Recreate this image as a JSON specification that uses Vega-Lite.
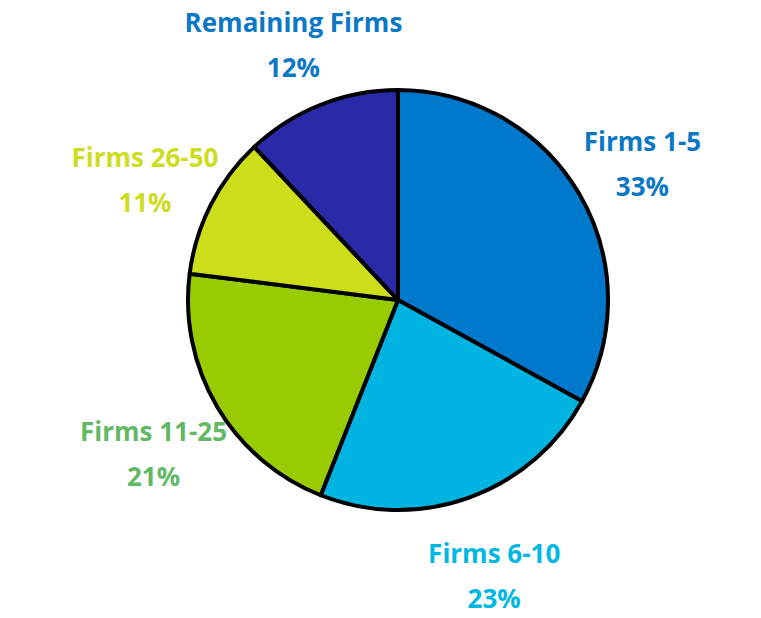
{
  "$schema": "https://vega.github.io/schema/vega-lite/v6.json",
  "autosize": "none",
  "width": 726,
  "height": 600,
  "padding": {"left": 35, "right": 0, "top": 0, "bottom": 18},
  "background": "white",
  "view": {"stroke": null},
  "data": {
    "values": [
      {"firm": "Firms 1-5", "pct": 33, "ord": 1, "label": "Firms 1-5\n33%"},
      {"firm": "Firms 6-10", "pct": 23, "ord": 2, "label": "Firms 6-10\n23%"},
      {"firm": "Firms 11-25", "pct": 21, "ord": 3, "label": "Firms 11-25\n21%"},
      {"firm": "Firms 26-50", "pct": 11, "ord": 4, "label": "Firms 26-50\n11%"},
      {"firm": "Remaining Firms", "pct": 12, "ord": 5, "label": "Remaining Firms\n12%"}
    ]
  },
  "encoding": {
    "theta": {"field": "pct", "type": "quantitative", "stack": true},
    "order": {"field": "ord", "type": "quantitative"}
  },
  "layer": [
    {
      "mark": {"type": "arc", "outerRadius": 210, "stroke": "black", "strokeWidth": 4, "strokeJoin": "round"},
      "encoding": {
        "color": {
          "field": "firm", "type": "nominal",
          "scale": {
            "domain": ["Firms 1-5", "Firms 6-10", "Firms 11-25", "Firms 26-50", "Remaining Firms"],
            "range": ["#0078CC", "#00B4E2", "#99CC00", "#CCDD1A", "#2A2AA8"]
          },
          "legend": null
        }
      }
    },
    {
      "mark": {"type": "text", "radius": 284, "dy": -12, "fontSize": 26, "fontWeight": "bold", "font": "Open Sans", "lineBreak": "\n", "lineHeight": 45, "align": "center", "baseline": "middle"},
      "encoding": {
        "text": {"field": "label", "type": "nominal"},
        "color": {
          "field": "firm", "type": "nominal",
          "scale": {
            "domain": ["Firms 1-5", "Firms 6-10", "Firms 11-25", "Firms 26-50", "Remaining Firms"],
            "range": ["#0A78C4", "#00B8E2", "#62B865", "#CCDD22", "#0A78C4"]
          },
          "legend": null
        }
      }
    }
  ],
  "resolve": {"scale": {"color": "independent"}}
}
